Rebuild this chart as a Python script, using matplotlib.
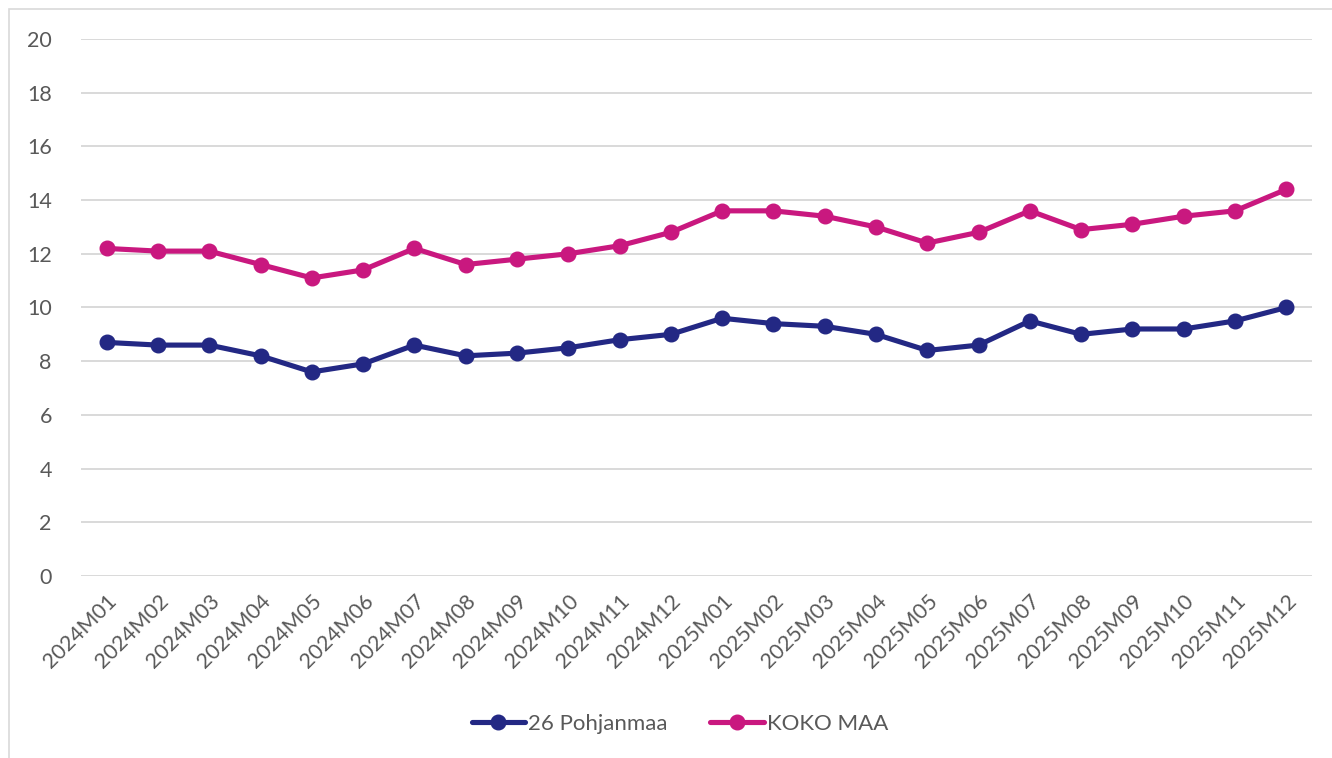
import numpy as np
import matplotlib
matplotlib.use('Agg')
import matplotlib.pyplot as plt
from matplotlib.patches import Rectangle

plt.rcParams['font.family'] = ['Lato', 'DejaVu Sans']

# kuukaudet
months = ['2024M01', '2024M02', '2024M03', '2024M04', '2024M05', '2024M06',
          '2024M07', '2024M08', '2024M09', '2024M10', '2024M11', '2024M12',
          '2025M01', '2025M02', '2025M03', '2025M04', '2025M05', '2025M06',
          '2025M07', '2025M08', '2025M09', '2025M10', '2025M11', '2025M12']

pohjanmaa = [8.7, 8.6, 8.6, 8.2, 7.6, 7.9, 8.6, 8.2, 8.3, 8.5, 8.8, 9.0,
             9.6, 9.4, 9.3, 9.0, 8.4, 8.6, 9.5, 9.0, 9.2, 9.2, 9.5, 10.0]
koko_maa = [12.2, 12.1, 12.1, 11.6, 11.1, 11.4, 12.2, 11.6, 11.8, 12.0, 12.3, 12.8,
            13.6, 13.6, 13.4, 13.0, 12.4, 12.8, 13.6, 12.9, 13.1, 13.4, 13.6, 14.4]

yticks = np.arange(0, 21, 2)

fig = plt.figure(figsize=(13.32, 7.58), dpi=100)
ax = fig.add_axes([81/1332, 182/758, 1231/1332, 537/758])

# reunus
fig.patches.append(Rectangle((9/1332, -0.1), 1.2, (758-9)/758 + 0.1,
                             transform=fig.transFigure, fill=False,
                             edgecolor='#D9D9D9', linewidth=1.2))

x = np.arange(len(months))
ax.plot(x, pohjanmaa, color='#232884', linewidth=3.7, marker='o',
        markersize=10.5, label='26 Pohjanmaa', solid_capstyle='round')
ax.plot(x, koko_maa, color='#C9187F', linewidth=3.7, marker='o',
        markersize=10.5, label='KOKO MAA', solid_capstyle='round')

ax.set_xlim(-0.5, len(months) - 0.5)
ax.set_ylim(0, 20)
ax.set_yticks(yticks)
ax.set_xticks(x)
ax.set_xticklabels(months, rotation=45, ha='right', rotation_mode='anchor')
ax.tick_params(axis='both', length=0, labelsize=15.5, colors='#595959')
ax.tick_params(axis='y', pad=21)
ax.tick_params(axis='x', pad=11)
ax.grid(axis='y', color='#D9D9D9', linewidth=1.4)
ax.set_axisbelow(True)
for s in ax.spines.values():
    s.set_visible(False)

fig.legend(loc='center', bbox_to_anchor=(680/1332, 1 - 724/758), ncol=2,
           frameon=False, fontsize=16, labelcolor='#595959',
           handlelength=2.4, handletextpad=0.15, columnspacing=1.9)

fig.savefig('out.png', dpi=100)
